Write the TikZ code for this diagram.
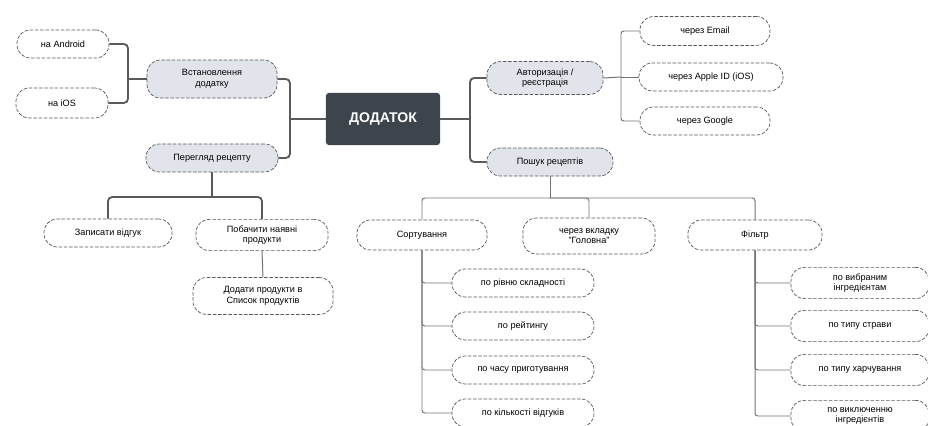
\documentclass[tikz,border=0pt]{standalone}
\usepackage{fontspec}
\setmainfont{Liberation Sans}
\usetikzlibrary{calc}

\definecolor{rootgray}{HTML}{3E444C}
\definecolor{pillgray}{HTML}{E1E5EB}
\definecolor{linegray}{HTML}{5A5A5A}

\begin{document}
\begin{tikzpicture}[x=0.025cm,y=-0.025cm,
    root/.style={fill=rootgray,text=white,font=\bfseries\fontsize{10}{12}\selectfont,
        rounded corners=2pt,minimum width=2.85cm,minimum height=1.3cm},
    pill/.style={draw=black!65,dash pattern=on 2.5pt off 1.2pt,line width=0.5pt,
        rounded corners=9.5pt,align=center,font=\fontsize{6.5}{7.5}\selectfont,
        inner sep=2pt,minimum height=0.7cm},
    mid/.style={pill,fill=pillgray},
    leaf/.style={pill,fill=white},
    conn/.style={draw=linegray,line width=1.3pt,rounded corners=3pt},
    thin/.style={draw=linegray!85,line width=0.7pt,rounded corners=2pt}]
    \useasboundingbox (0,0) rectangle (928,426);
    \clip (0,0) rectangle (928,426);

    % centre
    \node[root] (app) at (383,119) {ДОДАТОК};

    % left branch
    \node[mid,minimum width=3.25cm,minimum height=0.95cm] (inst) at (212,79) {Встановлення\\додатку};
    \node[leaf,minimum width=2.3cm] (andr) at (63,44) {на Android};
    \node[leaf,minimum width=2.3cm,minimum height=0.75cm] (ios) at (62,103) {на iOS};
    \node[mid,minimum width=3.3cm] (view) at (212,158) {Перегляд рецепту};
    \node[leaf,minimum width=3.2cm] (review) at (108,233) {Записати відгук};
    \node[leaf,minimum width=3.3cm,minimum height=0.78cm] (avail) at (262,235) {Побачити наявні\\продукти};
    \node[leaf,minimum width=3.5cm,minimum height=0.92cm] (addlist) at (263,296) {Додати продукти в\\Список продуктів};

    % right branch
    \node[mid,minimum width=2.9cm,minimum height=0.82cm] (auth) at (545,78) {Авторизація /\\реєстрація};
    \node[leaf,minimum width=3.25cm,minimum height=0.72cm] (email) at (705,31) {через Email};
    \node[leaf,minimum width=3.6cm] (apple) at (711,77) {через Apple ID (iOS)};
    \node[leaf,minimum width=3.25cm] (google) at (705,121) {через Google};
    \node[mid,minimum width=3.15cm] (search) at (550,162) {Пошук рецептів};
    \node[leaf,minimum width=3.25cm,minimum height=0.75cm] (sort) at (422,235) {Сортування};
    \node[leaf,minimum width=3.3cm,minimum height=0.9cm] (home) at (589,236) {через вкладку\\"Головна"};
    \node[leaf,minimum width=3.35cm,minimum height=0.75cm] (filter) at (755,235) {Фільтр};

    \foreach \y/\t [count=\i] in {283/по рівню складності,326/по рейтингу,
        370/по часу приготування,413/по кількості відгуків}
        \node[leaf,minimum width=3.55cm] (s\i) at (523,\y) {\t};
    \foreach \y/\t [count=\i] in {283/{по вибраним\\інгредієнтам},326/по типу страви,
        370/по типу харчування,416/{по виключенню\\інгредієнтів}}
        \node[leaf,minimum width=3.45cm,minimum height=0.78cm] (f\i) at (860,\y) {\t};

    % connectors
    \coordinate (jl) at (290,119);
    \coordinate (ja) at (128,79);
    \coordinate (jv) at (212,197);
    \coordinate (jr) at (470,119);
    \coordinate (jauth) at (621,77);
    \coordinate (js) at (550,198);

    \draw[conn] (app.west) -- (jl);
    \draw[conn] (inst.east) -| (jl) |- (view.east);
    \draw[conn] (inst.west) -- (ja);
    \draw[conn] (andr.east) -| (ja) |- (ios.east);
    \draw[conn] (view.south) -- (jv);
    \draw[conn] (review.north) |- (jv) -| (avail.north);
    \draw[thin] (avail.south) -- (addlist.north);

    \draw[conn] (app.east) -- (jr);
    \draw[conn] (auth.west) -| (jr) |- (search.west);
    \draw[thin] (auth.east) -- (jauth);
    \draw[thin] (email.west) -| (jauth) |- (google.west);
    \draw[thin] (jauth) -- (apple.west);

    \draw[thin] (search.south) -- (js);
    \draw[thin] (sort.north) |- (js) -| (filter.north);
    \draw[thin] (js) -| (home.north);
    \foreach \i in {1,...,4} {
        \draw[thin] (sort.south) |- (s\i.west);
        \draw[thin] (filter.south) |- (f\i.west);
    }
\end{tikzpicture}
\end{document}
